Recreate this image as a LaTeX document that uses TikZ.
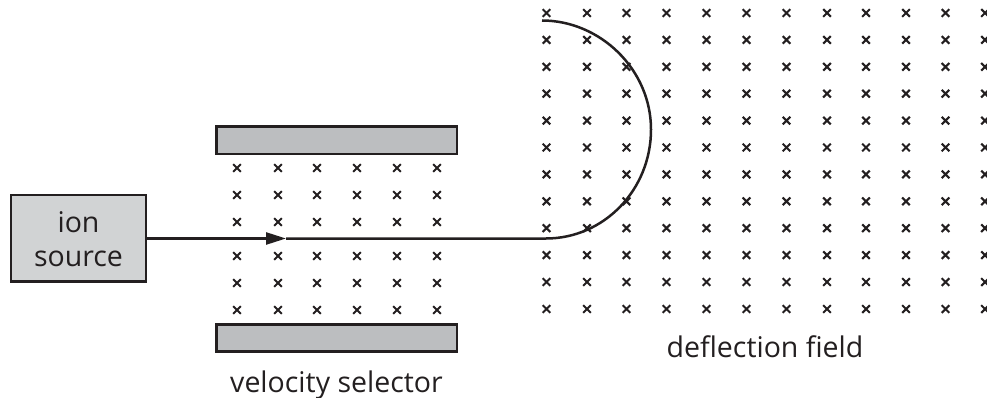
\documentclass[tikz,border=0pt]{standalone}
\usepackage{fontspec}
\setmainfont{Open Sans}
\usetikzlibrary{arrows.meta}
\definecolor{ink}{HTML}{231F20}
\definecolor{srcgray}{HTML}{D1D3D4}
\definecolor{plategray}{HTML}{BCBEC0}
\newcommand{\fieldmark}[2]{\draw[crossmark] (#1-3.8,#2-3.8) -- (#1+3.8,#2+3.8) (#1-3.8,#2+3.8) -- (#1+3.8,#2-3.8);}
\tikzset{
  crossmark/.style={draw=ink,line width=2.1pt},
  boxed/.style={draw=ink,line width=2.5pt,inner sep=0pt,outer sep=0pt,anchor=north west},
  lbl/.style={text=ink,font=\fontsize{28.5}{34}\selectfont,inner sep=0pt,anchor=base},
  beam/.style={draw=ink,line width=2.5pt}
}
\begin{document}
\begin{tikzpicture}[x=1pt,y=-1pt]
\useasboundingbox (0,0) rectangle (987,398);
\node[boxed,fill=plategray,minimum width=240.5pt,minimum height=27.3pt] (topplate) at (216.5,126.5) {};
\node[boxed,fill=plategray,minimum width=240.5pt,minimum height=27.3pt] (botplate) at (216.5,324.4) {};
\node[boxed,fill=srcgray,minimum width=135pt,minimum height=86.5pt] (src) at (11,195.2) {};
\node[lbl] (srcl1) at (78.5,232) {ion};
\node[lbl] (srcl2) at (78.5,266) {source};
\foreach \x in {237,278,317,357,397,437}
  \foreach \y in {168,195,222,256,283,310}
    {\fieldmark{\x}{\y}}
\foreach \x in {546.5,587,626.5,666.5,706.5,746.5,786.5,827,866,906,945.5,985}
  \foreach \y in {13,39.9,66.8,93.7,120.6,147.5,174.4,201.3,228.2,255.1,282,309}
    {\fieldmark{\x}{\y}}
\coordinate (tip) at (286,238.5);
\coordinate (bend) at (546,238.5);
\coordinate (far) at (651,129.5);
\coordinate (top) at (542,20.5);
\draw[beam,-{Triangle[length=20pt,width=12pt]}] (src.east |- tip) -- (tip);
\draw[beam] (tip) -- (bend) .. controls (604,238.5) and (651,189.7) .. (far) .. controls (651,69.3) and (600,20.5) .. (top);
\node[lbl] (vs) at (336.5,392) {velocity selector};
\node[lbl] (df) at (765,357) {deflection field};
\end{tikzpicture}
\end{document}
